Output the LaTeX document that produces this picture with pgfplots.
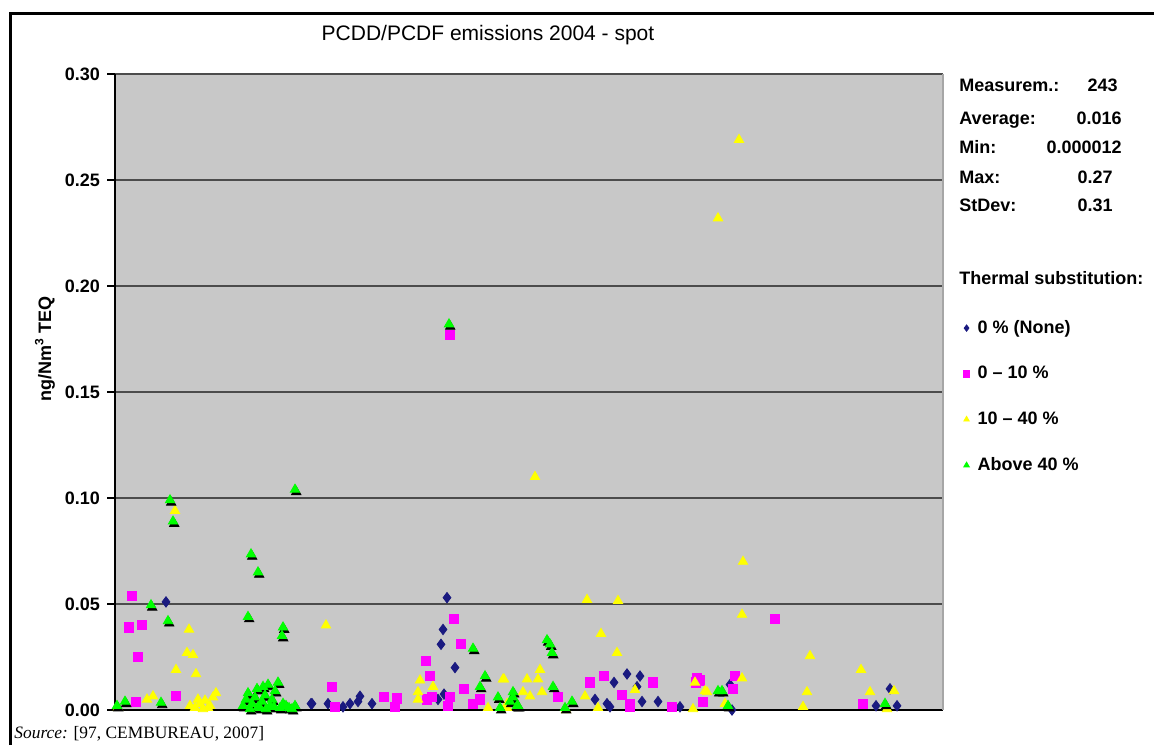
\documentclass[border=0pt]{standalone}
\usepackage{fontspec}
\setmainfont{Liberation Serif}
\newfontfamily\arial{Liberation Sans}
\usepackage{pgfplots}
\usepackage{pgfplotstable}
\pgfplotsset{compat=1.18}
\definecolor{bgGray}{HTML}{C8C8C8}
\definecolor{cNavy}{HTML}{1A1A80}
\definecolor{cMag}{HTML}{FF00FF}
\definecolor{cYel}{HTML}{FFFF00}
\definecolor{cGrn}{HTML}{00FF00}

\pgfplotstableread{
x y
166 0.051
311 0.003
312 0.003
328 0.003
343 0.0015
350 0.003
358 0.004
360 0.0065
372 0.003
447 0.053
443 0.038
441 0.031
455 0.020
438 0.005
444 0.0075
614 0.013
627 0.017
640 0.016
637 0.011
595 0.005
607 0.003
610 0.0015
642 0.004
658 0.004
680 0.0015
730 0.012
732 0.000
876 0.002
897 0.002
890 0.010
}\none

\pgfplotstableread{
x y
132 0.054
129 0.039
142 0.040
138 0.025
136 0.004
176 0.0065
332 0.011
335 0.0015
384 0.006
397 0.0055
395 0.0015
450 0.177
454 0.043
461 0.031
426 0.023
430 0.016
464 0.010
427 0.005
432 0.006
450 0.006
448 0.002
473 0.003
480 0.005
558 0.006
590 0.013
604 0.016
653 0.013
622 0.007
630 0.003
630 0.0015
672 0.0015
697 0.015
696 0.013
703 0.004
700 0.014
735 0.016
733 0.010
775 0.043
863 0.003
}\low

\pgfplotstableread{
x y
189 0.038
187 0.027
193 0.026
176 0.019
196 0.017
175 0.094
147 0.005
153 0.0065
118 0.001
190 0.002
195 0.001
200 0.003
205 0.0045
210 0.002
213 0.006
216 0.008
198 0.005
203 0.0005
208 0.001
326 0.040
420 0.014
433 0.011
418 0.0085
418 0.005
488 0.001
503 0.0145
507 0.003
535 0.110
504 0.0145
527 0.0145
540 0.019
538 0.0145
523 0.0085
530 0.0065
542 0.0085
507 0.001
566 0.000
585 0.0065
587 0.052
618 0.0515
601 0.036
617 0.027
635 0.0095
598 0.001
693 0.0005
695 0.013
707 0.0085
739 0.269
718 0.232
743 0.070
742 0.045
742 0.015
725 0.003
705 0.009
810 0.0255
807 0.0085
803 0.0015
861 0.019
870 0.0085
887 0.0005
894 0.009
}\mid

\pgfplotstableread{
x y
170 0.099
173 0.089
295 0.104
251 0.0735
258 0.065
151 0.0495
168 0.042
248 0.044
283 0.039
282 0.035
125 0.004
117 0.002
161 0.0035
243 0.002
246 0.005
248 0.008
252 0.003
255 0.006
257 0.010
260 0.001
262 0.004
265 0.007
268 0.012
270 0.002
272 0.005
275 0.009
278 0.013
280 0.001
283 0.003
286 0.002
289 0.001
292 0.0005
295 0.002
250 0.0005
258 0.0015
266 0.0005
274 0.0015
263 0.011
449 0.182
473 0.029
485 0.016
480 0.011
498 0.006
500 0.001
513 0.006
517 0.002
547 0.033
550 0.031
552 0.027
553 0.011
513 0.0085
510 0.004
518 0.002
565 0.001
572 0.004
718 0.009
722 0.009
728 0.002
885 0.003
}\high

\begin{document}
\begin{tikzpicture}
\begin{axis}[
  at={(57.5pt,-355pt)}, anchor=south west,
  scale only axis, width=414pt, height=318pt,
  xmin=115, xmax=943, ymin=0, ymax=0.30,
  xtick=\empty,
  ytick={0,0.05,0.1,0.15,0.2,0.25,0.3},
  yticklabel style={font=\arial\bfseries\fontsize{9}{10}\selectfont, text=black},
  yticklabel style={/pgf/number format/fixed, /pgf/number format/fixed zerofill, /pgf/number format/precision=2, /pgf/number format/assume math mode=true},
  ymajorgrids, grid style={draw=black!70, line width=1.2pt},
  axis background/.style={fill=bgGray},
  axis x line*=bottom, axis y line*=left,
  axis line style={black, line width=1pt},
  tick align=outside, major tick length=4pt, ytick style={black, line width=0.8pt},
  clip=false,
  legend style={at={(axis description cs:1.0195,0.62)}, anchor=north west, draw=none, fill=none,
    font=\arial\bfseries\fontsize{9}{10}\selectfont, row sep=11pt, inner sep=0pt, cells={anchor=west}},
  legend image code/.code={\path[draw=none,fill=none] (0pt,0pt) rectangle (7pt,0pt); \path[#1,draw=none,mark size=1.6pt,mark repeat=2,mark phase=2] plot coordinates {(0pt,0pt)(3.5pt,0pt)(7pt,0pt)};},
]
\draw[black!35, line width=1pt] (rel axis cs:1,0) -- (rel axis cs:1,1);
\addplot[only marks, mark=diamond*, mark size=2.6pt, mark options={draw=cNavy, fill=cNavy}] table[x=x,y=y]{\none};
\addlegendentry{0 \% (None)}
\addplot[only marks, mark=square*, mark size=2.3pt, mark options={draw=cMag, fill=cMag}] table[x=x,y=y]{\low};
\addlegendentry{0 – 10 \%}
\addplot[only marks, mark=triangle*, mark size=2.7pt, mark options={draw=cYel, fill=cYel}] table[x=x,y=y]{\mid};
\addlegendentry{10 – 40 \%}
\addplot[forget plot, only marks, mark=triangle*, mark size=2.7pt, mark options={draw=black, fill=black, yshift=-1.2pt, xshift=0.6pt}] table[x=x,y=y]{\high};
\addplot[only marks, mark=triangle*, mark size=2.7pt, mark options={draw=cGrn, fill=cGrn}] table[x=x,y=y]{\high};
\addlegendentry{Above 40 \%}
\end{axis}
\begin{scope}[x=0.5pt, y=-0.5pt]
  \draw[black, line width=1.5pt] (10,745) -- (10,13) -- (1154,13);
  \node[font=\arial\fontsize{10.5}{13}\selectfont] at (488,35) {PCDD/PCDF emissions 2004 - spot};
  \node[rotate=90, font=\arial\bfseries\fontsize{9}{10}\selectfont] at (45,349) {ng/Nm\textsuperscript{3} TEQ};
  \begin{scope}[every node/.style={font=\arial\bfseries\fontsize{9}{10}\selectfont, inner sep=0pt}]
    \node[anchor=base west] at (959,91) {Measurem.:};
    \node[anchor=base east] at (1118,91) {243};
    \node[anchor=base west] at (959,124) {Average:};
    \node[anchor=base east] at (1122,124) {0.016};
    \node[anchor=base west] at (959,153) {Min:};
    \node[anchor=base east] at (1122,153) {0.000012};
    \node[anchor=base west] at (959,183) {Max:};
    \node[anchor=base east] at (1113,183) {0.27};
    \node[anchor=base west] at (959,211) {StDev:};
    \node[anchor=base east] at (1113,211) {0.31};
    \node[anchor=base west] at (959,284) {Thermal substitution:};
  \end{scope}
  \node[anchor=base west, inner sep=0pt, font=\fontsize{8.7}{10}\selectfont] at (14,738) {\textit{Source:} [97, CEMBUREAU, 2007]};
\end{scope}
\pgfresetboundingbox
\useasboundingbox (0,0) rectangle (577pt,-372.5pt);
\end{tikzpicture}
\end{document}
